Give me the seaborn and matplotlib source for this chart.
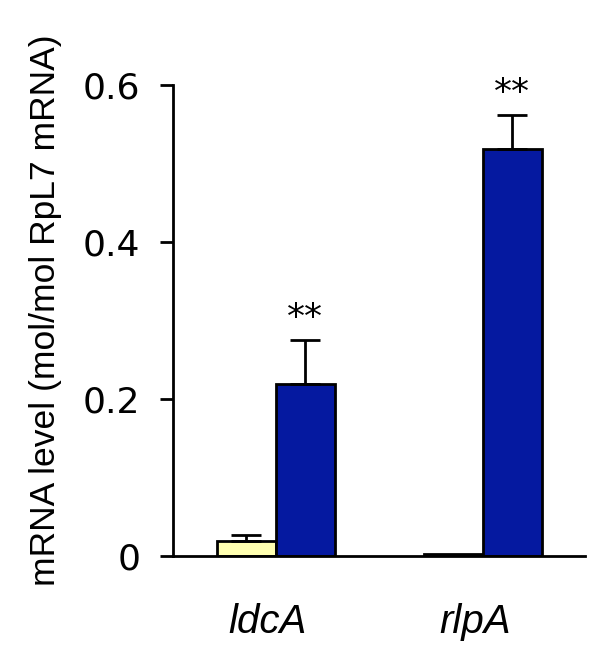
import matplotlib
matplotlib.use("Agg")
import matplotlib.pyplot as plt
import matplotlib.transforms as mtransforms
import seaborn as sns
import pandas as pd
import numpy as np

genes = ["ldcA", "rlpA"]
conditions = ["control", "treated"]
control_values = [0.019, 0.002]
control_errors = [0.008, 0.0]
treated_values = [0.219, 0.518]
treated_errors = [0.056, 0.044]
significance = ["**", "**"]
yticks = [0, 0.2, 0.4, 0.6]
ytick_labels = ["0", "0.2", "0.4", "0.6"]

colors = {"control": "#FFFFB0", "treated": "#0519A0"}

df = pd.DataFrame({
    "gene": genes * 2,
    "condition": [conditions[0]] * 2 + [conditions[1]] * 2,
    "value": control_values + treated_values,
    "err": control_errors + treated_errors,
})

sns.set_style("white")
plt.rcParams["font.family"] = ["DejaVu Sans"]
plt.rcParams["text.color"] = "black"
plt.rcParams["xtick.color"] = "black"
plt.rcParams["ytick.color"] = "black"

LW = 2.0

fig = plt.figure(figsize=(6, 6.67), dpi=100)
ax = fig.add_axes([0.288, 0.1664, 0.687, 0.7062])

sns.barplot(data=df, x="gene", y="value", hue="condition", order=genes,
            hue_order=conditions, palette=colors, width=0.57, gap=0,
            edgecolor="black", linewidth=LW, errorbar=None, legend=False,
            saturation=1, ax=ax)

bars = [p for p in ax.patches]
errs = control_errors + treated_errors
for i, p in enumerate(bars[:4]):
    cx = p.get_x() + p.get_width() / 2
    h = p.get_height()
    e = errs[i]
    if e > 0:
        ax.errorbar(cx, h, yerr=[[0], [e]], fmt="none", ecolor="black",
                    elinewidth=LW, capsize=11, capthick=LW, zorder=1)
    if i >= 2:
        ax.text(cx, h + e + 0.006, significance[i - 2], ha="center",
                va="bottom", fontsize=26, color="black")

ax.set_xlim(-0.498, 1.493)
ax.set_ylim(0, 0.6)
ax.set_yticks(yticks)
ax.set_yticklabels(ytick_labels, fontsize=26)
ax.set_xticks(range(len(genes)))
ax.set_xticklabels(genes, fontsize=29, style="italic", family=["Liberation Sans"])
ax.set_xlabel("")
ax.set_ylabel("mRNA level (mol/mol RpL7 mRNA)", fontsize=25.5,
              family=["Liberation Sans"], color="black")
ax.yaxis.set_label_coords(-0.270, 0.522)
sns.despine(ax=ax, top=True, right=True)
for s in ["left", "bottom"]:
    ax.spines[s].set_linewidth(LW)
    ax.spines[s].set_color("black")
ax.tick_params(axis="y", length=9.5, width=LW, direction="out", left=True,
               pad=14, colors="black")
ax.tick_params(axis="x", length=0, pad=34, colors="black")
shift = mtransforms.ScaledTranslation(-8 / 100, 0, fig.dpi_scale_trans)
for lab in ax.get_xticklabels():
    lab.set_transform(lab.get_transform() + shift)

fig.savefig("out.png", dpi=100)
